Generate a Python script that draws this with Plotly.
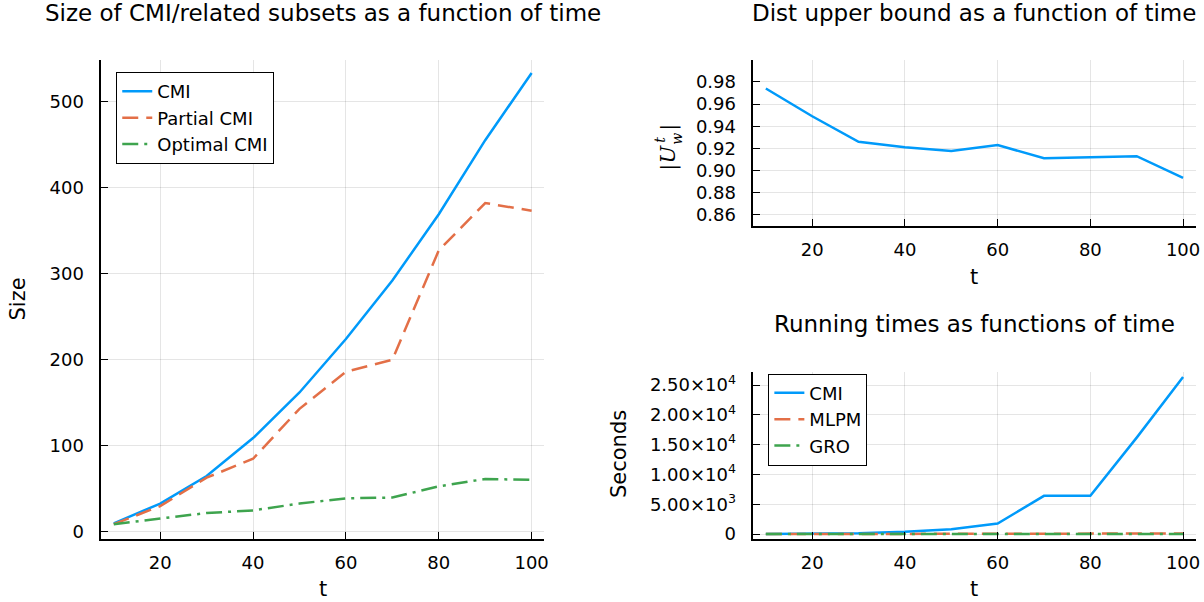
import plotly.graph_objects as go

# ---------------- data ----------------
t = [10, 20, 30, 40, 50, 60, 70, 80, 90, 100]

size_cmi = [10, 33, 65, 109, 162, 224, 292, 369, 455, 533]
size_partial = [9, 30, 63, 85, 143, 186, 200, 327, 382, 373]
size_optimal = [9, 15.5, 22, 25, 33, 39, 40, 53, 61.5, 60.5]

dist_upper = [0.974, 0.949, 0.926, 0.921, 0.9176, 0.923, 0.9112, 0.9121, 0.913, 0.8935]

time_cmi = [10, 40, 130, 385, 835, 1780, 6420, 6430, 16180, 26340]
time_mlpm = [2, 5, 10, 18, 28, 40, 55, 72, 90, 110]
time_gro = [1, 2, 4, 7, 10, 14, 19, 25, 32, 40]

x_ticks = [20, 40, 60, 80, 100]
size_ticks = [0, 100, 200, 300, 400, 500]
dist_ticks = [0.86, 0.88, 0.90, 0.92, 0.94, 0.96, 0.98]
time_ticks = [0, 5000, 10000, 15000, 20000, 25000]
time_ticktext = ["0", "5.00×10<sup>3</sup>", "1.00×10<sup>4</sup>", "1.50×10<sup>4</sup>",
                 "2.00×10<sup>4</sup>", "2.50×10<sup>4</sup>"]

# ---------------- style ----------------
BLUE = "#009AFA"
ORANGE = "#E36F47"
GREEN = "#3EA44E"
LW = 2.5
DASH = "16px,8px"
DASHDOT = "16px,6px,3px,6px"
FONT = "DejaVu Sans"
SERIF = "DejaVu Serif"

W, H = 1204, 602
# small correction for the slight shrink observed in the captured page
SX, SY = 0.9937, 0.9885

fig = go.Figure()

# left subplot
fig.add_trace(go.Scatter(x=t, y=size_cmi, mode="lines", name="CMI",
                         line=dict(color=BLUE, width=LW), xaxis="x", yaxis="y", legend="legend"))
fig.add_trace(go.Scatter(x=t, y=size_partial, mode="lines", name="Partial CMI",
                         line=dict(color=ORANGE, width=LW, dash=DASH), xaxis="x", yaxis="y", legend="legend"))
fig.add_trace(go.Scatter(x=t, y=size_optimal, mode="lines", name="Optimal CMI",
                         line=dict(color=GREEN, width=LW, dash=DASHDOT), xaxis="x", yaxis="y", legend="legend"))

# top-right
fig.add_trace(go.Scatter(x=t, y=dist_upper, mode="lines", name="dist", showlegend=False,
                         line=dict(color=BLUE, width=LW), xaxis="x2", yaxis="y2"))

# bottom-right
fig.add_trace(go.Scatter(x=t, y=time_cmi, mode="lines", name="CMI",
                         line=dict(color=BLUE, width=LW), xaxis="x3", yaxis="y3", legend="legend2"))
fig.add_trace(go.Scatter(x=t, y=time_mlpm, mode="lines", name="MLPM",
                         line=dict(color=ORANGE, width=LW, dash=DASH), xaxis="x3", yaxis="y3", legend="legend2"))
fig.add_trace(go.Scatter(x=t, y=time_gro, mode="lines", name="GRO",
                         line=dict(color=GREEN, width=LW, dash=DASHDOT), xaxis="x3", yaxis="y3", legend="legend2"))


def px_x(p):
    return (p / SX) / W


def px_y(p):
    return 1 - (p / SY) / H


GRID = "rgba(0,0,0,0.1)"
TICKFONT = dict(family=FONT, size=18, color="black")


def axis_common(**kw):
    d = dict(showline=True, linecolor="black", linewidth=1.5, mirror=False,
             ticks="inside", ticklen=7, tickwidth=1.2, tickcolor="black",
             showgrid=True, gridcolor=GRID, gridwidth=1, zeroline=False,
             tickfont=TICKFONT)
    d.update(kw)
    return d


L_X = [px_x(101), px_x(543)]
R_X = [px_x(751.7), px_x(1193)]

fig.update_layout(
    width=W, height=H,
    margin=dict(l=0, r=0, t=0, b=0),
    paper_bgcolor="white", plot_bgcolor="white",
    font=dict(family=FONT, color="black"),
    xaxis=axis_common(domain=L_X, anchor="y", range=[7.3, 102.7], tickvals=x_ticks,
                      ticklabelstandoff=7),
    yaxis=axis_common(domain=[px_y(538), px_y(60)], anchor="x", range=[-8, 548],
                      tickvals=size_ticks, ticklabelstandoff=12),
    xaxis2=axis_common(domain=R_X, anchor="y2", range=[7.3, 102.7], tickvals=x_ticks,
                       ticklabelstandoff=7),
    yaxis2=axis_common(domain=[px_y(225.7), px_y(59.6)], anchor="x2", range=[0.85, 1.0],
                       tickvals=dist_ticks, tickformat=".2f", ticklabelstandoff=12),
    xaxis3=axis_common(domain=R_X, anchor="y3", range=[7.3, 102.7], tickvals=x_ticks,
                       ticklabelstandoff=7),
    yaxis3=axis_common(domain=[px_y(538), px_y(371.7)], anchor="x3", range=[-790, 27140],
                       tickvals=time_ticks, ticktext=time_ticktext, ticklabelstandoff=12),
    legend=dict(x=px_x(116), y=px_y(72), xanchor="left", yanchor="top",
                bgcolor="white", bordercolor="black", borderwidth=1,
                font=dict(family=FONT, size=18, color="black"),
                tracegroupgap=0, itemwidth=30),
    legend2=dict(x=px_x(766.7), y=px_y(373), xanchor="left", yanchor="top",
                 bgcolor="white", bordercolor="black", borderwidth=1,
                 font=dict(family=FONT, size=18, color="black"),
                 tracegroupgap=0, itemwidth=30),
)

ann = []


def add_text(text, x, y, size, angle=0, family=FONT):
    ann.append(dict(text=text, x=px_x(x), y=px_y(y), xref="paper", yref="paper",
                    xanchor="center", yanchor="middle", showarrow=False, textangle=angle,
                    font=dict(family=family, size=size, color="black")))


# titles
add_text("Size of CMI/related subsets as a function of time", 322, 12.5, 23)
add_text("Dist upper bound as a function of time", 972, 12.5, 23)
add_text("Running times as functions of time", 972, 323, 23)
# axis titles
add_text("t", 322, 588, 21)
add_text("t", 972, 277, 21)
add_text("t", 972, 588, 21)
add_text("Size", 18, 299, 21, angle=-90)
add_text("Seconds", 617, 453, 21, angle=-90)
# |U_w^t| built from pieces (rotated, reading bottom to top)
add_text("|<i>U</i>", 667, 157, 21, angle=-90, family=SERIF)
add_text("<i>t</i>", 659, 139, 14, angle=-90, family=SERIF)
add_text("<i>w</i>", 676, 138, 14, angle=-90, family=SERIF)
add_text("|", 667, 127, 21, angle=-90, family=SERIF)

fig.update_layout(annotations=ann)

# remove the default 8px body margin so the figure fills the window
fig.write_html("out.html", config={"displayModeBar": False},
               post_script="document.body.style.margin='0';")
